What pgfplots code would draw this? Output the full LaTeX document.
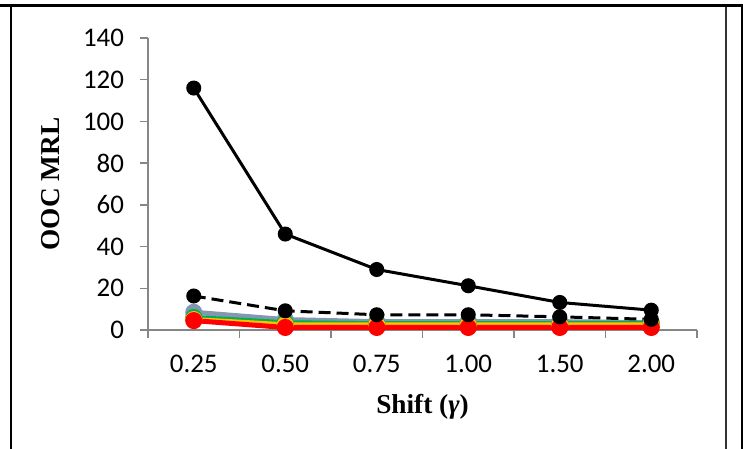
\documentclass[border=0pt]{standalone}
\usepackage{pgfplots}
\pgfplotsset{compat=1.18}
\usepackage{fontspec}
\setmainfont{Liberation Serif}
\newfontfamily\calibri{Carlito}

\definecolor{axgray}{RGB}{134,134,134}
\definecolor{sgray}{RGB}{132,151,176}
\definecolor{sgreen}{RGB}{0,176,80}
\definecolor{syellow}{RGB}{255,192,0}
\definecolor{sred}{RGB}{255,0,0}

\begin{document}
\begin{tikzpicture}[x=0.5bp,y=0.5bp]
\path[use as bounding box] (0,0) rectangle (743,449);
% table cell borders
\draw[line width=1.5bp] (0,443) -- (743,443);
\draw[line width=0.8bp] (11,0) -- (11,442);
\draw[line width=0.8bp, black!80] (726,0) -- (726,442);
\draw[line width=1bp] (742,0) -- (742,443);

\begin{axis}[
  at={(74bp,59.5bp)}, anchor=south west,
  scale only axis, width=274.5bp, height=146bp,
  xmin=0, xmax=6, ymin=0, ymax=140,
  axis x line=bottom, axis y line=left,
  axis line style={-, axgray, line width=0.75bp},
  tick align=outside,
  major tick length=4bp, minor tick length=4bp,
  tick style={axgray, line width=0.75bp},
  ytick={0,20,...,140},
  xtick={0.5,1.5,2.5,3.5,4.5,5.5},
  xticklabels={0.25,0.50,0.75,1.00,1.50,2.00},
  minor xtick={0,1,2,3,4,5,6},
  major x tick style={draw=none},
  /pgf/number format/assume math mode=true,
  ticklabel style={font=\calibri\fontsize{13.5}{15}\selectfont, black},
  xticklabel style={yshift=-5bp},
  yticklabel style={xshift=-4.5bp},
  xlabel={\textbf{Shift (\textit{γ})}},
  ylabel={\textbf{OOC MRL}},
  label style={font=\fontsize{13.7}{16}\selectfont},
  xlabel style={yshift=-4bp},
  ylabel style={yshift=5bp},
  clip=false,
  every axis plot/.append style={mark=*, mark size=3bp},
]
\addplot[sgray, line width=2.5bp, mark options={fill=sgray}] coordinates
  {(0.5,8.5) (1.5,5) (2.5,4) (3.5,4) (4.5,4) (5.5,3.5)};
\addplot[sgreen, line width=2.5bp, mark options={fill=sgreen}] coordinates
  {(0.5,6) (1.5,3.5) (2.5,3) (3.5,3) (4.5,3) (5.5,3)};
\addplot[syellow, line width=2.5bp, mark options={fill=syellow}] coordinates
  {(0.5,5) (1.5,2.5) (2.5,2.5) (3.5,2.5) (4.5,2.5) (5.5,2.5)};
\addplot[sred, line width=2.5bp, mark options={fill=sred}] coordinates
  {(0.5,4.5) (1.5,1.2) (2.5,1.2) (3.5,1.2) (4.5,1.2) (5.5,1.2)};
\addplot[black, line width=1.5bp, mark options={fill=black}] coordinates
  {(0.5,116) (1.5,46) (2.5,29) (3.5,21.2) (4.5,13.2) (5.5,9.5)};
\addplot[black, line width=1.5bp, dash pattern=on 6bp off 3bp, mark options={fill=black, solid}] coordinates
  {(0.5,16.3) (1.5,9.2) (2.5,7.3) (3.5,7.3) (4.5,6.3) (5.5,5.1)};
\end{axis}
\end{tikzpicture}
\end{document}
